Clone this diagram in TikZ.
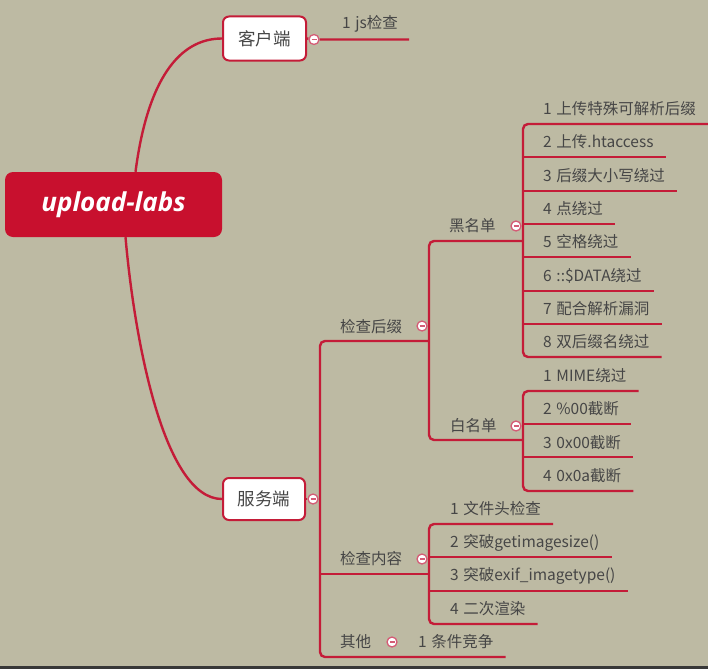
\documentclass[tikz,border=0pt]{standalone}
\usepackage{fontspec}
\setmainfont{Noto Sans CJK SC}
\newfontfamily\rootfont{Open Sans}
\usetikzlibrary{calc}
\definecolor{bgc}{RGB}{189,186,163}
\definecolor{brc}{RGB}{196,28,56}
\definecolor{rootred}{RGB}{200,16,46}
\definecolor{txt}{RGB}{70,70,70}
\definecolor{togc}{RGB}{212,92,118}
\newcommand\ig{\hspace{0.3em}}
\pgfdeclarelayer{back}
\pgfdeclarelayer{lines}
\pgfsetlayers{back,lines,main}
\begin{document}
\begin{tikzpicture}[x=1pt,y=-1pt,
  link/.style={draw=brc, line width=2.4pt, rounded corners=5pt},
  item/.style={anchor=west, inner sep=0pt, text=txt, font=\fontsize{15.5}{18}\selectfont},
  topbox/.style={draw=brc, line width=2pt, fill=white, rounded corners=6pt, text=txt,
    font=\fontsize{17.5}{20}\selectfont, inner sep=0pt, minimum width=83pt, minimum height=44pt},
  rootbox/.style={fill=rootred, rounded corners=8pt, text=white, inner sep=0pt,
    minimum width=217pt, minimum height=65pt, font=\rootfont\bfseries\itshape\fontsize{26}{30}\selectfont},
  tog/.style={circle, draw=togc, fill=white, line width=1.3pt, minimum size=10pt, inner sep=0pt,
    path picture={\draw[togc, line width=1.3pt] ([xshift=-2.5pt]path picture bounding box.center) -- ([xshift=2.5pt]path picture bounding box.center);}}]
\useasboundingbox (0,0) rectangle (708,669);
\begin{pgfonlayer}{back}
  \fill[bgc] (0,0) rectangle (708,669);
  \fill[black!78] (0,666) rectangle (708,669);
\end{pgfonlayer}

% main nodes
\node[rootbox] (root) at (113.5,204.5) {upload-labs};
\node[topbox] (kh) at (264.5,38.5) {客户端};
\node[topbox, minimum width=82pt, minimum height=42pt] (fw) at (264,499) {服务端};
\node[tog] (t0) at (314,39.5) {};
\node[tog] (t9) at (313,499) {};

% client
\node[item] (js) at (342,24) {1\ig js检查};

% server level 2
\node[item] (hz) at (340,327) {检查后缀};
\node[tog] (th) at (422,326) {};
\node[item] (nr) at (340,559) {检查内容};
\node[tog] (tn) at (422,559) {};
\node[item] (qt) at (340,642) {其他};
\node[tog] (tq) at (392,642) {};
\node[item] (q1) at (418,642) {1\ig 条件竞争};

% level 3
\node[item] (hm) at (449,226) {黑名单};
\node[tog] (tb) at (516,226) {};
\node[item] (bm) at (450,426) {白名单};
\node[tog] (tw) at (516,426) {};

% blacklist
\node[item] (b1) at (543,109) {1\ig 上传特殊可解析后缀};
\node[item] (b2) at (543,142) {2\ig 上传.htaccess};
\node[item] (b3) at (543,176) {3\ig 后缀大小写绕过};
\node[item] (b4) at (543,209) {4\ig 点绕过};
\node[item] (b5) at (543,242) {5\ig 空格绕过};
\node[item] (b6) at (543,276) {6\ig ::\$DATA绕过};
\node[item] (b7) at (543,309) {7\ig 配合解析漏洞};
\node[item] (b8) at (543,342) {8\ig 双后缀名绕过};

% whitelist
\node[item] (w1) at (543,376) {1\ig MIME绕过};
\node[item] (w2) at (543,409) {2\ig \%00截断};
\node[item] (w3) at (543,443) {3\ig 0x00截断};
\node[item] (w4) at (543,476) {4\ig 0x0a截断};

% content check
\node[item] (c1) at (450,509) {1\ig 文件头检查};
\node[item] (c2) at (450,543) {2\ig 突破getimagesize()};
\node[item] (c3) at (450,576) {3\ig 突破exif\_imagetype()};
\node[item] (c4) at (450,609) {4\ig 二次渲染};

% junction coordinates
\coordinate (s1) at (320,341);
\coordinate (s2) at (320,574);
\coordinate (s3) at (320,657);
\coordinate (sv) at (320,499);
\coordinate (h1) at (429,341);
\coordinate (n1) at (429,574);
\coordinate (k1) at (429,241);
\coordinate (k2) at (429,440);
\coordinate (j1) at (523,241);
\coordinate (j2) at (523,440);
\coordinate (a1) at (523,124);
\coordinate (a2) at (523,157);
\coordinate (a3) at (523,191);
\coordinate (a4) at (523,224);
\coordinate (a5) at (523,257);
\coordinate (a6) at (523,291);
\coordinate (a7) at (523,324);
\coordinate (a8) at (523,357);
\coordinate (v1) at (523,391);
\coordinate (v2) at (523,424);
\coordinate (v3) at (523,457);
\coordinate (v4) at (523,491);
\coordinate (m1) at (429,524);
\coordinate (m2) at (429,557);
\coordinate (m3) at (429,591);
\coordinate (m4) at (429,624);

\begin{pgfonlayer}{lines}
  % root to top level
  \draw[link] ([xshift=22pt]root.north) .. controls +(12,-92) and +(-43,0) .. (kh.west);
  \draw[link] ([xshift=12pt]root.south) .. controls +(9,103) and +(-58,0) .. (fw.west);
  % client
  \draw[link] (kh.east) -- (t0) -- (js.east |- t0) -- ++(11,0);
  % server
  \draw[link] (fw.east) -- (t9) -- (sv);
  \draw[link] (h1) -- (s1) -- (s3) -- (q1.east |- s3) -- ++(12,0);
  \draw[link] (s2) -- (n1);
  % suffix check
  \draw[link] (j1) -- (k1) -- (k2) -- (j2);
  % blacklist
  \draw[link] (b1.east |- a1) ++(12,0) -- (a1) -- (a8) -- (b8.east |- a8) -- ++(12,0);
  \draw[link] (a2) -- (b2.east |- a2) -- ++(12,0);
  \draw[link] (a3) -- (b3.east |- a3) -- ++(12,0);
  \draw[link] (a4) -- (b4.east |- a4) -- ++(12,0);
  \draw[link] (a5) -- (b5.east |- a5) -- ++(12,0);
  \draw[link] (a6) -- (b6.east |- a6) -- ++(12,0);
  \draw[link] (a7) -- (b7.east |- a7) -- ++(12,0);
  % whitelist
  \draw[link] (w1.east |- v1) ++(12,0) -- (v1) -- (v4) -- (w4.east |- v4) -- ++(12,0);
  \draw[link] (v2) -- (w2.east |- v2) -- ++(12,0);
  \draw[link] (v3) -- (w3.east |- v3) -- ++(12,0);
  % content check
  \draw[link] (c1.east |- m1) ++(12,0) -- (m1) -- (m4) -- (c4.east |- m4) -- ++(12,0);
  \draw[link] (m2) -- (c2.east |- m2) -- ++(12,0);
  \draw[link] (m3) -- (c3.east |- m3) -- ++(12,0);
\end{pgfonlayer}
\end{tikzpicture}
\end{document}
